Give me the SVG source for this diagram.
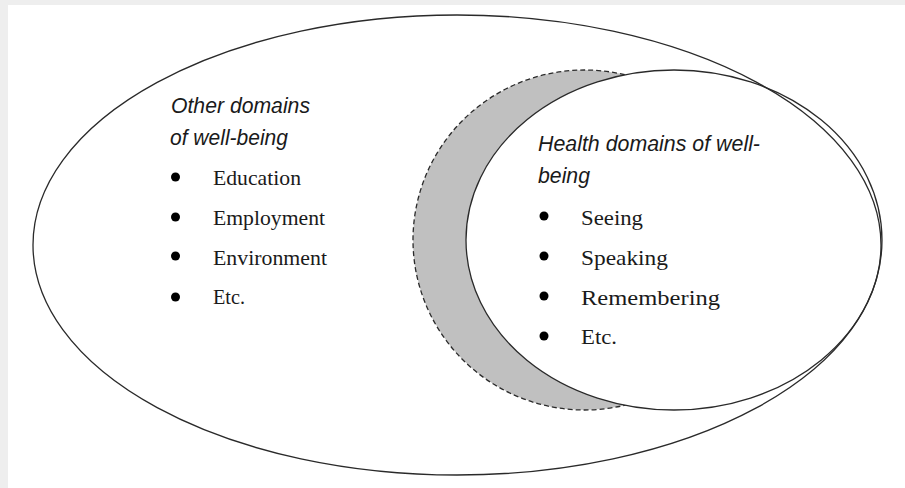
<svg xmlns="http://www.w3.org/2000/svg" width="905" height="488" viewBox="0 0 905 488">
  <style>
    .line { stroke: #2a2a2a; stroke-width: 1.3; }
    .head { font-family: "Liberation Sans", Arial, sans-serif; font-style: italic; font-size: 22px; fill: #1a1a1a; }
    .item { font-family: "Liberation Serif", "Times New Roman", serif; font-size: 22px; fill: #1a1a1a; }
    .dot { fill: #000; }
  </style>
  <rect x="0" y="0" width="905" height="488" fill="#eeeeee"/>
  <rect x="8" y="5" width="897" height="483" fill="#ffffff"/>

  <g id="crescent">
    <ellipse cx="584.5" cy="240" rx="171.5" ry="170" fill="#c0c0c0" class="line" stroke-dasharray="5 3"/>
  </g>

  <g id="health-domains">
    <ellipse cx="674" cy="240" rx="208" ry="170" fill="#ffffff" class="line"/>
    <text class="head" x="538" y="151" textLength="222" lengthAdjust="spacingAndGlyphs">Health domains of well-</text>
    <text class="head" x="538" y="183" textLength="52" lengthAdjust="spacingAndGlyphs">being</text>
    <circle class="dot" cx="544" cy="216" r="4.5"/>
    <circle class="dot" cx="544" cy="256" r="4.5"/>
    <circle class="dot" cx="544" cy="296" r="4.5"/>
    <circle class="dot" cx="544" cy="336" r="4.5"/>
    <text class="item" x="581" y="225" textLength="62" lengthAdjust="spacingAndGlyphs">Seeing</text>
    <text class="item" x="581" y="265" textLength="87" lengthAdjust="spacingAndGlyphs">Speaking</text>
    <text class="item" x="581" y="305" textLength="139" lengthAdjust="spacingAndGlyphs">Remembering</text>
    <text class="item" x="581" y="344" textLength="36" lengthAdjust="spacingAndGlyphs">Etc.</text>
  </g>

  <g id="other-domains">
    <ellipse cx="457" cy="245" rx="424" ry="230" fill="none" class="line"/>
    <text class="head" x="171" y="113" textLength="139" lengthAdjust="spacingAndGlyphs">Other domains</text>
    <text class="head" x="170" y="145" textLength="118" lengthAdjust="spacingAndGlyphs">of well-being</text>
    <circle class="dot" cx="175.5" cy="177" r="4.5"/>
    <circle class="dot" cx="175.5" cy="217" r="4.5"/>
    <circle class="dot" cx="175.5" cy="256" r="4.5"/>
    <circle class="dot" cx="175.5" cy="297" r="4.5"/>
    <text class="item" x="213" y="185" textLength="88" lengthAdjust="spacingAndGlyphs">Education</text>
    <text class="item" x="213" y="225" textLength="112" lengthAdjust="spacingAndGlyphs">Employment</text>
    <text class="item" x="213" y="265" textLength="114" lengthAdjust="spacingAndGlyphs">Environment</text>
    <text class="item" x="213" y="304" textLength="32" lengthAdjust="spacingAndGlyphs">Etc.</text>
  </g>
</svg>
